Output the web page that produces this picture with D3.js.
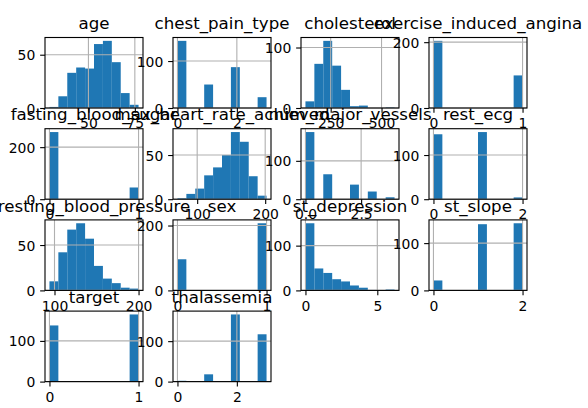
<!DOCTYPE html>
<html>
<head>
<meta charset="utf-8">
<script src="https://cdn.jsdelivr.net/npm/d3@7"></script>
<style>
  html, body { margin: 0; padding: 0; background: #fff; }
  svg { display: block; font-family: "DejaVu Sans", sans-serif; }
</style>
</head>
<body>
<svg id="chart" width="588" height="408"></svg>
<script>
// Column names, in panel order (row by row, four per row)
const columns = [
  "age", "chest_pain_type", "cholesterol", "exercise_induced_angina",
  "fasting_blood_sugar", "max_heart_rate_achieved", "num_major_vessels", "rest_ecg",
  "resting_blood_pressure", "sex", "st_depression", "st_slope",
  "target", "thalassemia"
];

// Smallest and largest value of each column (the histogram range)
const lowest  = [29, 0, 126, 0, 0, 71, 0, 0, 94, 0, 0, 0, 0, 0];
const highest = [77, 3, 564, 1, 1, 202, 4, 2, 200, 1, 6.2, 2, 1, 3];

// Counts in ten equal-width bins per column
const age                   = [1, 11, 33, 38, 37, 60, 63, 43, 14, 3];
const chestPainType         = [143, 0, 0, 50, 0, 0, 87, 0, 0, 23];
const cholesterol           = [11, 73, 111, 70, 30, 3, 4, 0, 0, 1];
const exerciseInducedAngina = [204, 0, 0, 0, 0, 0, 0, 0, 0, 99];
const fastingBloodSugar     = [258, 0, 0, 0, 0, 0, 0, 0, 0, 45];
const maxHeartRateAchieved  = [1, 6, 12, 27, 36, 50, 76, 65, 26, 4];
const numMajorVessels       = [175, 0, 65, 0, 0, 38, 0, 20, 0, 5];
const restEcg               = [147, 0, 0, 0, 0, 152, 0, 0, 0, 4];
const restingBloodPressure  = [10, 42, 67, 74, 57, 27, 13, 8, 3, 2];
const sex                   = [96, 0, 0, 0, 0, 0, 0, 0, 0, 207];
const stDepression          = [150, 49, 39, 25, 20, 11, 6, 1, 0, 2];
const stSlope               = [21, 0, 0, 0, 0, 140, 0, 0, 0, 142];
const target                = [138, 0, 0, 0, 0, 0, 0, 0, 0, 165];
const thalassemia           = [2, 0, 0, 18, 0, 0, 166, 0, 0, 117];

const counts = [
  age, chestPainType, cholesterol, exerciseInducedAngina,
  fastingBloodSugar, maxHeartRateAchieved, numMajorVessels, restEcg,
  restingBloodPressure, sex, stDepression, stSlope,
  target, thalassemia
];

// Tick values per panel
const xTicks = [
  [50, 75], [0, 2], [250, 500], [0, 1],
  [0, 1], [100, 200], [0, 2.5], [0, 2],
  [100, 200], [0, 1], [0, 5], [0, 2],
  [0, 1], [0, 2]
];
const yTicks = [
  [0, 50], [0, 100], [0, 100], [0, 200],
  [0, 200], [0, 50], [0, 100], [0, 100],
  [0, 50], [0, 200], [0, 100], [0, 100],
  [0, 100], [0, 100]
];

// Panel geometry
const panelW = 98, panelH = 70.5;
const left0 = 45, top0 = 37.5, stepX = 128, stepY = 91.2;
const tickLen = 4.86, tickPad = 4.86;
const tickFont = 13.9, titleFont = 16.67;
const barColor = "#1f77b4", gridColor = "#b0b0b0", lineW = 1.11;

const svg = d3.select("#chart");

function fmtFor(ticks) {
  return ticks.every(Number.isInteger) ? d3.format("d") : d3.format(".1f");
}

columns.forEach((name, i) => {
  const r = Math.floor(i / 4), c = i % 4;
  const g = svg.append("g")
    .attr("transform", `translate(${left0 + c * stepX},${top0 + r * stepY})`);

  const lo = lowest[i], hi = highest[i], span = hi - lo;
  const cnt = counts[i];
  const x = d3.scaleLinear()
    .domain([lo - 0.05 * span, hi + 0.05 * span])
    .range([0, panelW]);
  const y = d3.scaleLinear()
    .domain([0, d3.max(cnt) * 1.05])
    .range([panelH, 0]);
  const edges = d3.range(cnt.length + 1).map(k => lo + k * span / cnt.length);

  // bars
  g.selectAll("rect.bar").data(cnt).join("rect")
    .attr("class", "bar")
    .attr("x", (d, k) => x(edges[k]))
    .attr("width", (d, k) => x(edges[k + 1]) - x(edges[k]))
    .attr("y", d => y(d))
    .attr("height", d => panelH - y(d))
    .attr("fill", barColor);

  // grid lines, drawn above the bars
  const grid = g.append("g").attr("stroke", gridColor).attr("stroke-width", lineW);
  grid.selectAll("line.gx").data(xTicks[i]).join("line")
    .attr("class", "gx")
    .attr("x1", d => x(d)).attr("x2", d => x(d))
    .attr("y1", 0).attr("y2", panelH);
  grid.selectAll("line.gy").data(yTicks[i]).join("line")
    .attr("class", "gy")
    .attr("x1", 0).attr("x2", panelW)
    .attr("y1", d => y(d)).attr("y2", d => y(d));

  // axes
  const xAxis = g.append("g")
    .attr("transform", `translate(0,${panelH})`)
    .call(d3.axisBottom(x).tickValues(xTicks[i]).tickFormat(fmtFor(xTicks[i]))
      .tickSize(tickLen).tickPadding(tickPad).tickSizeOuter(0));
  const yAxis = g.append("g")
    .call(d3.axisLeft(y).tickValues(yTicks[i]).tickFormat(fmtFor(yTicks[i]))
      .tickSize(tickLen).tickPadding(tickPad).tickSizeOuter(0));

  [xAxis, yAxis].forEach(ax => {
    ax.select(".domain").remove();
    ax.selectAll(".tick line").attr("stroke", "#000").attr("stroke-width", lineW);
    ax.selectAll(".tick text")
      .attr("fill", "#000")
      .style("font-family", "'DejaVu Sans', sans-serif")
      .style("font-size", tickFont + "px");
  });
  xAxis.selectAll(".tick text").attr("dy", "0.76em");
  yAxis.selectAll(".tick text").attr("dy", "0.36em");

  // frame
  g.append("rect")
    .attr("x", 0).attr("y", 0).attr("width", panelW).attr("height", panelH)
    .attr("fill", "none").attr("stroke", "#000").attr("stroke-width", lineW);

  // title
  g.append("text")
    .attr("x", panelW / 2).attr("y", -8.33)
    .attr("text-anchor", "middle")
    .attr("fill", "#000")
    .style("font-size", titleFont + "px")
    .text(name);
});
</script>
</body>
</html>
